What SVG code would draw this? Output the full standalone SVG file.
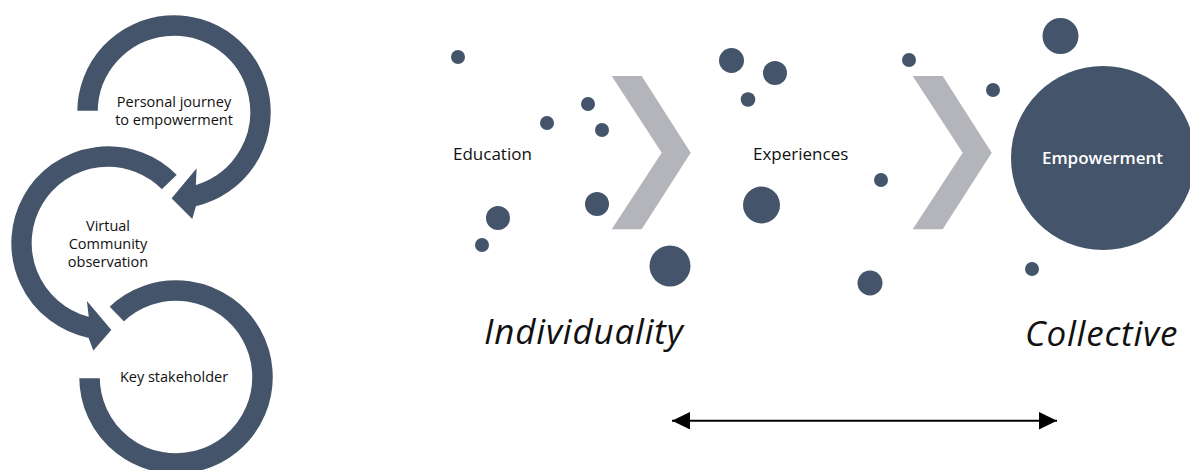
<svg xmlns="http://www.w3.org/2000/svg" width="1190" height="470" viewBox="0 0 1190 470">
<defs>
<style>
.ring{fill:#44546a;stroke:#ffffff;stroke-width:2.5;stroke-linejoin:miter}
.dot{fill:#44546a}
.chev{fill:#b3b5bb}
.lbl{font-family:"Open Sans","Noto Sans","Liberation Sans",sans-serif;font-size:14.5px;fill:#111;text-anchor:middle}
.stage{font-family:"Open Sans","Noto Sans","Liberation Sans",sans-serif;font-size:17px;fill:#111}
.big{font-family:"Open Sans","Noto Sans","Liberation Sans",sans-serif;font-size:35px;font-style:italic;letter-spacing:0.8px;fill:#111}
</style>
<marker id="ah" markerUnits="userSpaceOnUse" markerWidth="18" markerHeight="18" viewBox="0 0 17 17" refX="17" refY="8.25" orient="auto-start-reverse">
<path d="M0,0 L17,8.25 L0,16.5 Z" fill="#000"/>
</marker>
</defs>
<rect width="1190" height="470" fill="#ffffff"/>

<g id="node-key-stakeholder">
<path class="ring" d="M107.9,306.5 A98,98 0 1 1 78,377 L101,377 A75,75 0 1 0 123.9,323.1 Z"/>
<text class="lbl" x="174" y="382">Key stakeholder</text>
</g>

<g id="node-virtual-community">
<path class="ring" d="M178.5,174.9 A98,98 0 1 0 87.6,338.9 L92.9,353 L113,329.9 L85.1,297 L87.3,315.1 A75,75 0 1 1 161.9,190.9 Z"/>
<text class="lbl" x="108" y="231">Virtual</text>
<text class="lbl" x="108" y="249">Community</text>
<text class="lbl" x="108" y="267">observation</text>
</g>

<g id="node-personal-journey">
<path class="ring" d="M76,112 A98,98 0 1 1 196.9,207.3 L192.9,221.4 L169.9,198.4 L198,164.8 L197.2,183.3 A75,75 0 1 0 99,112 Z"/>
<text class="lbl" x="174" y="107">Personal journey</text>
<text class="lbl" x="174" y="125">to empowerment</text>
</g>

<g id="node-education">
<circle class="dot" cx="458" cy="57" r="7"/>
<circle class="dot" cx="588" cy="104" r="7"/>
<circle class="dot" cx="547" cy="123" r="7"/>
<circle class="dot" cx="602" cy="130" r="7"/>
<circle class="dot" cx="597" cy="204" r="12"/>
<circle class="dot" cx="498" cy="218" r="12"/>
<circle class="dot" cx="482" cy="245" r="7"/>
<circle class="dot" cx="670" cy="266" r="20.5"/>
<text class="stage" x="453" y="160">Education</text>
</g>

<g id="node-experiences">
<circle class="dot" cx="731.5" cy="60.5" r="12.5"/>
<circle class="dot" cx="775" cy="73" r="12"/>
<circle class="dot" cx="748" cy="99.5" r="7.3"/>
<circle class="dot" cx="909" cy="60" r="7"/>
<circle class="dot" cx="993" cy="90" r="7"/>
<circle class="dot" cx="881" cy="180" r="7"/>
<circle class="dot" cx="761.5" cy="205" r="18.5"/>
<circle class="dot" cx="870" cy="283" r="12.5"/>
<text class="stage" x="753" y="160">Experiences</text>
</g>

<g id="node-empowerment">
<circle class="dot" cx="1060.5" cy="36" r="18"/>
<circle class="dot" cx="1032" cy="269" r="7"/>
<circle class="dot" cx="1103" cy="158" r="92"/>
<text class="stage" x="1102.5" y="164" text-anchor="middle" style="fill:#ffffff;font-weight:600">Empowerment</text>
</g>

<g id="node-individuality">
<text class="big" x="484" y="344">Individuality</text>
</g>
<g id="node-collective">
<text class="big" x="1025" y="346">Collective</text>
</g>

<g id="connectors">
<polygon class="chev" points="611.7,76 641.7,76 690.7,152.7 641.7,229.3 611.7,229.3 661.7,152.7"/>
<polygon class="chev" points="912.7,76 942.7,76 991.7,152.7 942.7,229.3 912.7,229.3 962.7,152.7"/>
<line x1="672" y1="420.7" x2="1057" y2="420.7" stroke="#000" stroke-width="2" marker-start="url(#ah)" marker-end="url(#ah)"/>
</g>
</svg>
